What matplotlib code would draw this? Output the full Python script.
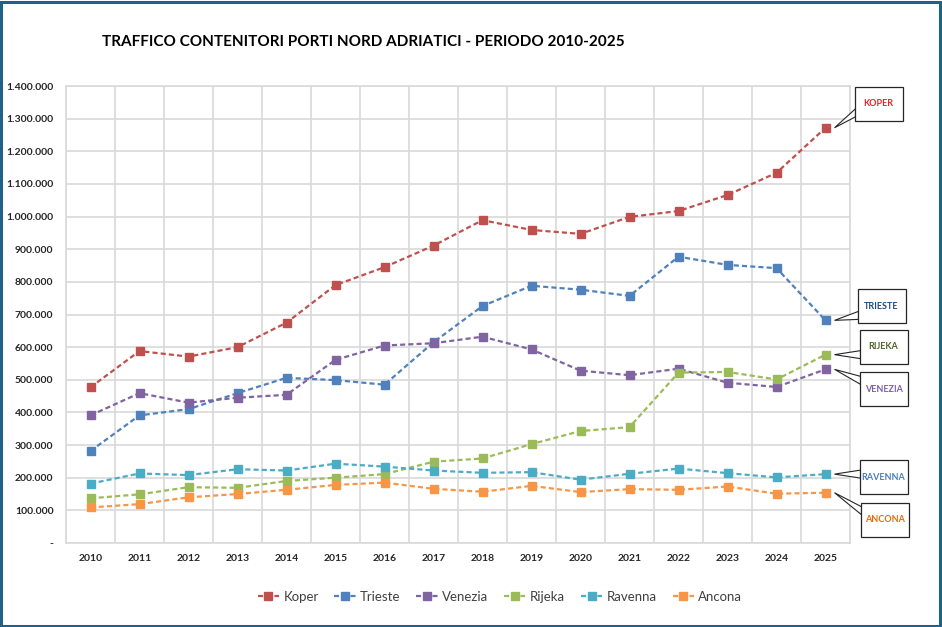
import numpy as np
import matplotlib
matplotlib.use("Agg")
import matplotlib.pyplot as plt
from matplotlib.patches import Rectangle, Polygon
from matplotlib.ticker import FuncFormatter

# Data (TEU)
years = list(range(2010, 2026))
koper = [477000, 588000, 571000, 600000, 675000, 790000, 845000, 911000,
         989000, 959000, 947000, 999000, 1017000, 1066000, 1134000, 1272000]
trieste = [282000, 391000, 410000, 459000, 506000, 499000, 485000, 615000,
           726000, 788000, 776000, 757000, 877000, 852000, 842000, 682000]
venezia = [391000, 459000, 430000, 445000, 454000, 561000, 605000, 612000,
           632000, 593000, 528000, 514000, 534000, 491000, 478000, 532000]
rijeka = [137000, 149000, 171000, 169000, 190000, 200000, 211000, 249000,
          259000, 303000, 343000, 355000, 522000, 524000, 501000, 577000]
ravenna = [182000, 213000, 208000, 226000, 222000, 243000, 234000, 222000,
           215000, 217000, 194000, 212000, 228000, 214000, 201000, 211000]
ancona = [109000, 119000, 140000, 150000, 163000, 178000, 185000, 166000,
          157000, 175000, 156000, 165000, 163000, 173000, 151000, 154000]

names = ["Koper", "Trieste", "Venezia", "Rijeka", "Ravenna", "Ancona"]
series = [koper, trieste, venezia, rijeka, ravenna, ancona]
colors = ["#C0504D", "#4F81BD", "#8064A2", "#9BBB59", "#4BACC6", "#F79646"]

# callout text colour and box offset from last point (px, y down), same order as names
callout_colors = ["#E8202A", "#1F497D", "#7F5FA8", "#4F6228", "#4A7EBB", "#E46C0A"]
callout_dx = [53, 56, 58, 58, 58, 59]
callout_dy = [-24, -14, 20, -8, 3, 27]

plt.rcParams['font.family'] = ['Lato', 'DejaVu Sans']

W, H = 942, 627
fig = plt.figure(figsize=(W / 100, H / 100), dpi=100)
ax = fig.add_axes([66 / W, 1 - 543 / H, (850 - 66) / W, (543 - 86) / H])

for name, vals, c in zip(names, series, colors):
    ax.plot(years, vals, color=c, lw=1.6, ls=(0, (2.3, 1.4)),
            marker='s', ms=5.2, mfc=c, mec=c, label=name)

ax.set_xlim(2009.5, 2025.5)
ax.set_ylim(0, 1400000)
ax.set_xticks(years)
ax.set_xticks(np.arange(2009.5, 2026, 1), minor=True)
ax.set_yticks(np.arange(0, 1400001, 100000))

def fmt(v, pos):
    if v == 0:
        return "-"
    return f"{int(v):,}".replace(",", ".")

ax.yaxis.set_major_formatter(FuncFormatter(fmt))
ax.grid(axis='y', which='major', color='#D9D9D9', lw=1.2)
ax.grid(axis='x', which='minor', color='#D9D9D9', lw=1.2)
ax.set_axisbelow(True)
for s in ax.spines.values():
    s.set_color('#D9D9D9')
    s.set_linewidth(1.2)
ax.tick_params(which='both', length=0)
ax.tick_params(axis='y', pad=9, labelsize=7.5, labelcolor='#262626')
ax.tick_params(axis='x', pad=8, labelsize=7.5, labelcolor='#262626')
for lab in ax.get_xticklabels() + ax.get_yticklabels():
    lab.set_fontweight('bold')

fig.text(363 / W, 1 - 42 / H,
         "TRAFFICO CONTENITORI PORTI NORD ADRIATICI - PERIODO 2010-2025",
         ha='center', va='center', fontsize=11, fontweight='bold', color='black')

ax.legend(loc='center', bbox_to_anchor=(500 / W, 1 - 597 / H),
          bbox_transform=fig.transFigure, ncol=6, frameon=False,
          fontsize=9.5, handlelength=1.6, columnspacing=1.2,
          handletextpad=0.35, labelcolor='#404040')

# callouts
bw, bh = 48, 34
for name, vals, tc, dx, dy in zip(names, series, callout_colors, callout_dx, callout_dy):
    px, py = ax.transData.transform((years[-1], vals[-1]))
    cx, cy = px + dx, py - dy
    left = cx - bw / 2
    shift = np.clip(py - cy, -9, 9)
    tip = (px + 9, py)
    poly = [tip, (left + 1, cy + shift - 4), (left + 1, cy + shift + 4)]
    fig.add_artist(Polygon([(x / W, y / H) for x, y in poly], closed=True,
                           fc='white', ec='#262626', lw=0.8,
                           transform=fig.transFigure))
    fig.add_artist(Rectangle((left / W, (cy - bh / 2) / H), bw / W, bh / H,
                             fc='white', ec='#262626', lw=0.9,
                             transform=fig.transFigure))
    fig.text(cx / W, cy / H, name.upper(), ha='center', va='center', fontsize=6.5,
             fontweight='bold', color=tc)

# outer frame
fig.add_artist(Rectangle((1 / W, 1.5 / H), (W - 3) / W, (H - 3) / H,
                         fill=False, ec='#1F6289', lw=2.2,
                         transform=fig.transFigure))

fig.savefig("out.png", dpi=100)
